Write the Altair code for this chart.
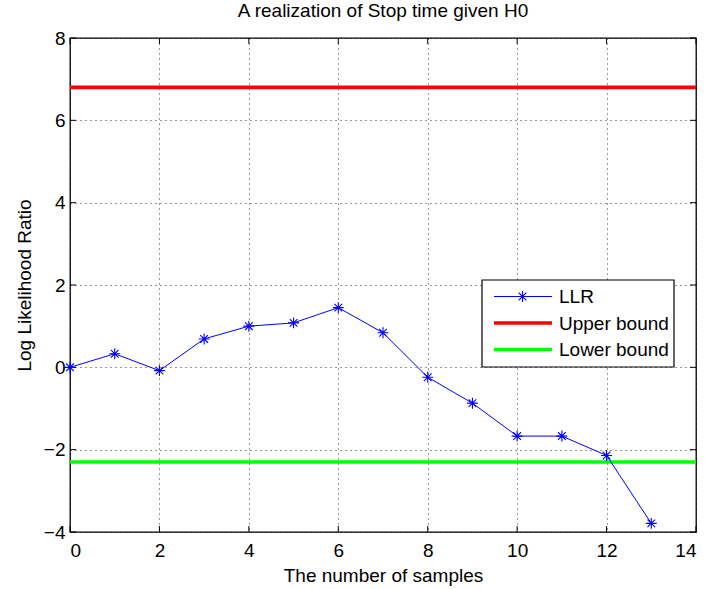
import altair as alt
import pandas as pd

# ---- data ----
samples = list(range(14))
llr = [0.0, 0.33, -0.08, 0.69, 1.00, 1.08, 1.45, 0.84, -0.24, -0.87, -1.67, -1.67, -2.14, -3.79]
upper_bound = 6.80
lower_bound = -2.30
x_ticks = [0, 2, 4, 6, 8, 10, 12, 14]
y_ticks = [-4, -2, 0, 2, 4, 6, 8]
legend_labels = ["LLR", "Upper bound", "Lower bound"]
legend_colors = ["#0000ff", "#ff0000", "#00ff00"]

W, H = 626, 494
FONT = "Liberation Sans"

df = pd.DataFrame({"n": samples, "llr": llr})
bounds = pd.DataFrame({"name": ["Upper bound", "Lower bound"],
                       "v": [upper_bound, lower_bound],
                       "c": ["#ff0000", "#00ff00"]})
xt = pd.DataFrame({"t": x_ticks})
yt = pd.DataFrame({"t": y_ticks})
dummy = pd.DataFrame({"a": [0]})

xscale = alt.Scale(domain=[0, 14], nice=False, zero=False)
yscale = alt.Scale(domain=[-4, 8], nice=False, zero=False)

star = "M-1,0L1,0M0,-1L0,1M-0.7,-0.7L0.7,0.7M-0.7,0.7L0.7,-0.7"

base_x = alt.X("n:Q", scale=xscale,
               axis=alt.Axis(values=x_ticks, title="The number of samples", format="d"))
base_y = alt.Y("llr:Q", scale=yscale,
               axis=alt.Axis(values=y_ticks, title="Log Likelihood Ratio", format="d"))

grid = alt.Chart(df).mark_point(opacity=0).encode(x=base_x, y=base_y)

bound_rules = alt.Chart(bounds).mark_rule(strokeWidth=3.7).encode(
    y=alt.Y("v:Q", scale=yscale),
    color=alt.Color("c:N", scale=None),
)

line = alt.Chart(df).mark_line(color="#0000ff", strokeWidth=1).encode(
    x=alt.X("n:Q", scale=xscale), y=alt.Y("llr:Q", scale=yscale))
pts = alt.Chart(df).mark_point(shape=star, size=120, filled=False,
                               color="#0000ff", strokeWidth=1.1, opacity=1).encode(
    x=alt.X("n:Q", scale=xscale), y=alt.Y("llr:Q", scale=yscale))

# inward ticks (Matlab style)
tk = 6
xt_bot = alt.Chart(xt).mark_rule(color="black").encode(
    x=alt.X("t:Q", scale=xscale), y=alt.value(H - tk), y2=alt.value(H))
xt_top = alt.Chart(xt).mark_rule(color="black").encode(
    x=alt.X("t:Q", scale=xscale), y=alt.value(0), y2=alt.value(tk))
yt_left = alt.Chart(yt).mark_rule(color="black").encode(
    y=alt.Y("t:Q", scale=yscale), x=alt.value(0), x2=alt.value(tk))
yt_right = alt.Chart(yt).mark_rule(color="black").encode(
    y=alt.Y("t:Q", scale=yscale), x=alt.value(W - tk), x2=alt.value(W))

# manual legend box
lx0, lx1, ly0, ly1 = 412, 604, 242, 329
legend_box = alt.Chart(dummy).mark_rect(fill="white", stroke="black", strokeWidth=1.2).encode(
    x=alt.value(lx0), x2=alt.value(lx1), y=alt.value(ly0), y2=alt.value(ly1))
legend_layers = [legend_box]
row_y = [258.5, 285, 311.5]
for i, (lab, col) in enumerate(zip(legend_labels, legend_colors)):
    sw = 1 if i == 0 else 3.7
    legend_layers.append(alt.Chart(dummy).mark_rule(color=col, strokeWidth=sw).encode(
        x=alt.value(424), x2=alt.value(482), y=alt.value(row_y[i])))
    if i == 0:
        legend_layers.append(alt.Chart(dummy).mark_point(
            shape=star, size=120, filled=False, color=col, strokeWidth=1.1, opacity=1).encode(
            x=alt.value(452.5), y=alt.value(row_y[i])))
    legend_layers.append(alt.Chart(dummy).mark_text(
        text=lab, align="left", baseline="middle", font=FONT, fontSize=19, color="black").encode(
        x=alt.value(489), y=alt.value(row_y[i] + 0.5)))

chart = alt.layer(grid, xt_bot, xt_top, yt_left, yt_right, bound_rules, line, pts,
                  *legend_layers).properties(
    width=W, height=H,
    title=alt.TitleParams("A realization of Stop time given H0", font=FONT, fontSize=19,
                          fontWeight="normal", color="black", offset=8),
    autosize=alt.AutoSizeParams(type="none"),
    padding={"left": 70, "top": 38, "right": 12, "bottom": 57},
    background="white",
).configure_view(stroke="black", strokeWidth=1.3).configure_axis(
    domain=False, ticks=False, tickSize=0, grid=True, gridColor="black", gridDash=[1, 4],
    gridOpacity=0.8, gridWidth=1, labelFont=FONT, labelFontSize=19, labelColor="black",
    titleFont=FONT, titleFontSize=19, titleFontWeight="normal", titleColor="black",
).configure_axisX(labelPadding=9, titlePadding=6).configure_axisY(
    labelPadding=5, titlePadding=9)

chart.save("out.html", embed_options={"renderer": "svg", "actions": False})
